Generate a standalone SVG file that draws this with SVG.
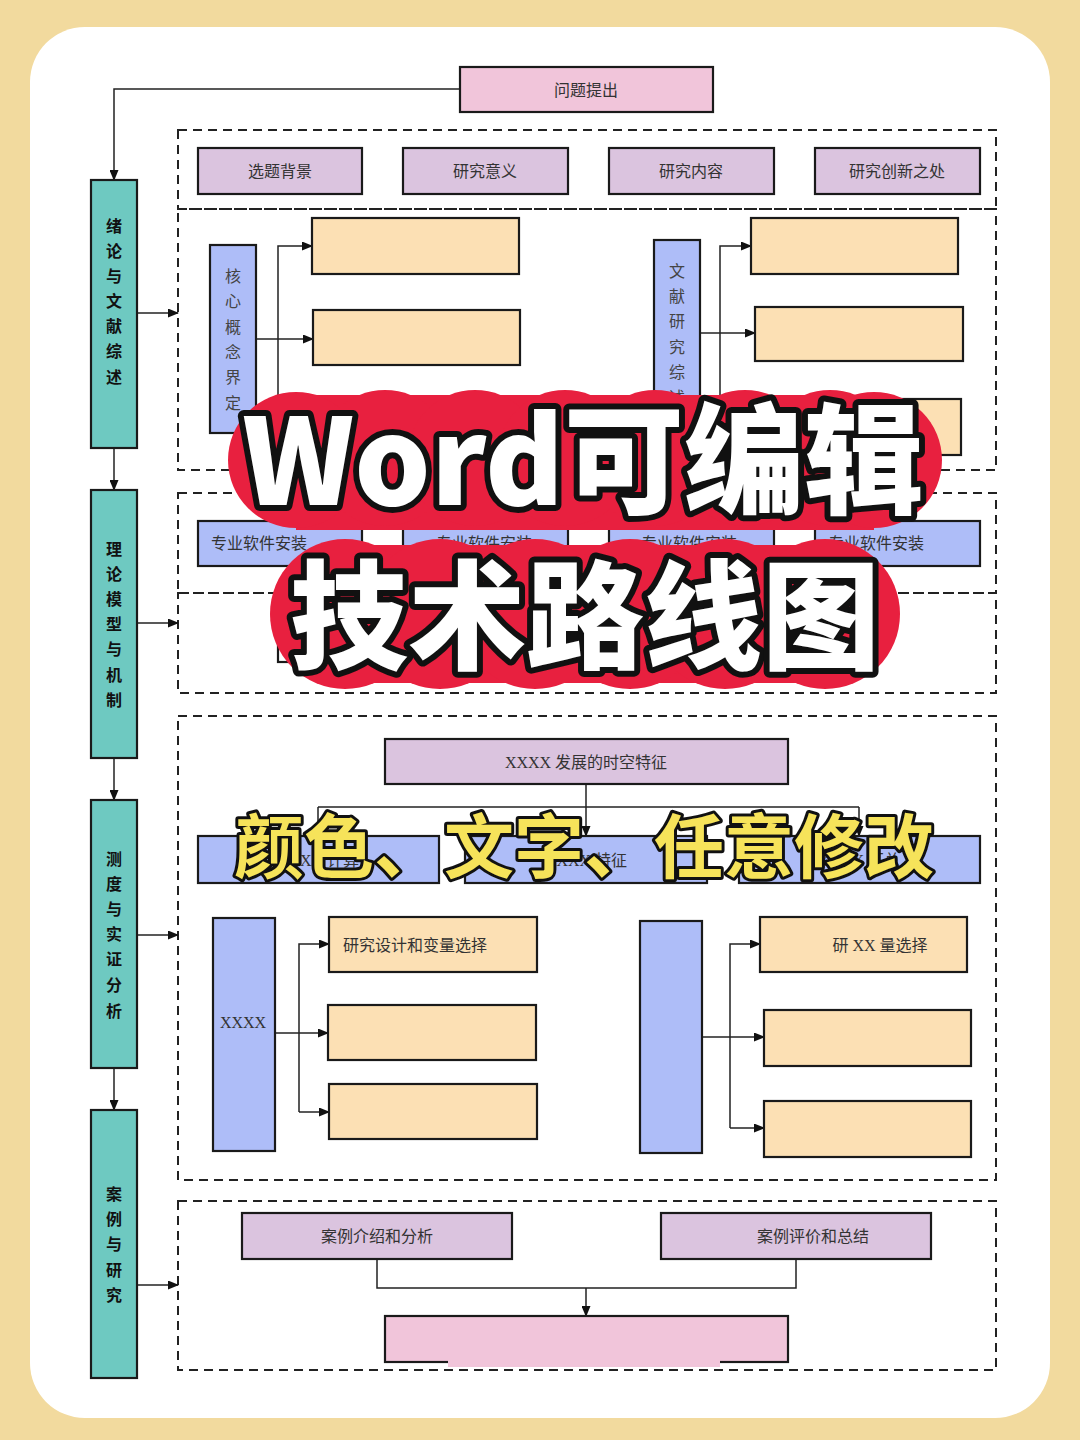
<svg xmlns="http://www.w3.org/2000/svg" width="1080" height="1440" viewBox="0 0 1080 1440">
<defs>
<marker id="arr" markerWidth="11" markerHeight="9" refX="10" refY="4.5" orient="auto" markerUnits="userSpaceOnUse"><path d="M0,0 L11,4.5 L0,9 z" fill="#111"/></marker>
<style>
.box{stroke:#1a1a1a;stroke-width:2.2}
.pink{fill:#F1C5DA}.lav{fill:#DBC4DF}.org{fill:#FCE0B4}.blue{fill:#AEBDF8}.teal{fill:#6EC9C1}
.dash{fill:none;stroke:#222;stroke-width:2;stroke-dasharray:9 6}
.t{font-family:"Liberation Serif","Noto Sans CJK SC",serif;font-size:16px;fill:#333;text-anchor:middle;dominant-baseline:central}
.tl{font-family:"Liberation Serif","Noto Sans CJK SC",serif;font-size:16px;fill:#333;dominant-baseline:central}
.v{font-family:"Noto Sans CJK SC",sans-serif;font-size:16px;fill:#111;font-weight:700;text-anchor:middle;dominant-baseline:central}
.vg{font-family:"Noto Sans CJK SC",sans-serif;font-size:16px;fill:#444;text-anchor:middle;dominant-baseline:central}
.ln{fill:none;stroke:#222;stroke-width:1.5}
.big{font-family:"Noto Sans CJK SC",sans-serif;font-weight:900;fill:#fff;stroke:#111;stroke-width:12;stroke-linejoin:round;paint-order:stroke;text-anchor:middle}
.yel{font-family:"Noto Sans CJK SC",sans-serif;font-weight:700;fill:#F6E35A;stroke:#111;stroke-width:6;stroke-linejoin:round;paint-order:stroke;text-anchor:middle}
</style>
</defs>
<rect x="0" y="0" width="1080" height="1440" fill="#F2DA9E"/>
<rect x="30" y="27" width="1020" height="1391" rx="55" fill="#fff"/>

<g id="dashed-frames">
<rect class="dash" x="178" y="130" width="818" height="79"/>
<rect class="dash" x="178" y="209" width="818" height="261"/>
<rect class="dash" x="178" y="493" width="818" height="100"/>
<rect class="dash" x="178" y="593" width="818" height="100"/>
<rect class="dash" x="178" y="716" width="818" height="464"/>
<rect class="dash" x="178" y="1201" width="818" height="169"/>
</g>

<g id="connectors">
<path class="ln" d="M460,89 H114 V180" marker-end="url(#arr)"/>
<path class="ln" d="M137,313 H178" marker-end="url(#arr)"/>
<path class="ln" d="M114,448 V490" marker-end="url(#arr)"/>
<path class="ln" d="M137,623 H178" marker-end="url(#arr)"/>
<path class="ln" d="M114,758 V800" marker-end="url(#arr)"/>
<path class="ln" d="M137,935 H178" marker-end="url(#arr)"/>
<path class="ln" d="M114,1068 V1110" marker-end="url(#arr)"/>
<path class="ln" d="M137,1285 H178" marker-end="url(#arr)"/>
<path class="ln" d="M256,339 H313" marker-end="url(#arr)"/>
<path class="ln" d="M278,427 V246 H312" marker-end="url(#arr)"/>
<path class="ln" d="M278,427 H312" marker-end="url(#arr)"/>
<path class="ln" d="M700,333 H755" marker-end="url(#arr)"/>
<path class="ln" d="M720,427 V246 H751" marker-end="url(#arr)"/>
<path class="ln" d="M720,427 H753" marker-end="url(#arr)"/>
<path class="ln" d="M586,784 V836" marker-end="url(#arr)"/>
<path class="ln" d="M318,807 H859"/>
<path class="ln" d="M318,807 V836" marker-end="url(#arr)"/>
<path class="ln" d="M859,807 V836" marker-end="url(#arr)"/>
<path class="ln" d="M275,1033 H328" marker-end="url(#arr)"/>
<path class="ln" d="M299,1112 V944 H329" marker-end="url(#arr)"/>
<path class="ln" d="M299,1112 H329" marker-end="url(#arr)"/>
<path class="ln" d="M702,1037 H764" marker-end="url(#arr)"/>
<path class="ln" d="M730,1128 V944 H760" marker-end="url(#arr)"/>
<path class="ln" d="M730,1128 H764" marker-end="url(#arr)"/>
<path class="ln" d="M377,1259 V1288 H796 V1259"/>
<path class="ln" d="M586,1288 V1316" marker-end="url(#arr)"/>
</g>

<g id="n-wenti"><rect class="box pink" x="460" y="67" width="253" height="45"/><text class="t" x="586" y="90">问题提出</text></g>

<g id="n-xuanti"><rect class="box lav" x="198" y="148" width="164" height="46"/><text class="t" x="280" y="171">选题背景</text></g>
<g id="n-yiyi"><rect class="box lav" x="403" y="148" width="165" height="46"/><text class="t" x="485" y="171">研究意义</text></g>
<g id="n-neirong"><rect class="box lav" x="609" y="148" width="165" height="46"/><text class="t" x="691" y="171">研究内容</text></g>
<g id="n-chuangxin"><rect class="box lav" x="815" y="148" width="165" height="46"/><text class="t" x="897" y="171">研究创新之处</text></g>

<g id="n-teal1"><rect class="box teal" x="91" y="180" width="46" height="268"/>
<text class="v" x="114" y="225">绪</text><text class="v" x="114" y="250">论</text><text class="v" x="114" y="275">与</text><text class="v" x="114" y="300">文</text><text class="v" x="114" y="325">献</text><text class="v" x="114" y="350">综</text><text class="v" x="114" y="376">述</text></g>
<g id="n-teal2"><rect class="box teal" x="91" y="490" width="46" height="268"/>
<text class="v" x="114" y="548">理</text><text class="v" x="114" y="573">论</text><text class="v" x="114" y="598">模</text><text class="v" x="114" y="623">型</text><text class="v" x="114" y="648">与</text><text class="v" x="114" y="674">机</text><text class="v" x="114" y="699">制</text></g>
<g id="n-teal3"><rect class="box teal" x="91" y="800" width="46" height="268"/>
<text class="v" x="114" y="858">测</text><text class="v" x="114" y="883">度</text><text class="v" x="114" y="908">与</text><text class="v" x="114" y="933">实</text><text class="v" x="114" y="958">证</text><text class="v" x="114" y="984">分</text><text class="v" x="114" y="1010">析</text></g>
<g id="n-teal4"><rect class="box teal" x="91" y="1110" width="46" height="268"/>
<text class="v" x="114" y="1193">案</text><text class="v" x="114" y="1218">例</text><text class="v" x="114" y="1243">与</text><text class="v" x="114" y="1269">研</text><text class="v" x="114" y="1294">究</text></g>

<g id="n-hexin"><rect class="box blue" x="210" y="245" width="46" height="188"/>
<text class="vg" x="233" y="275">核</text><text class="vg" x="233" y="300">心</text><text class="vg" x="233" y="326">概</text><text class="vg" x="233" y="351">念</text><text class="vg" x="233" y="376">界</text><text class="vg" x="233" y="402">定</text></g>
<g id="n-h1"><rect class="box org" x="312" y="218" width="207" height="56"/></g>
<g id="n-h2"><rect class="box org" x="313" y="310" width="207" height="55"/></g>
<g id="n-h3"><rect class="box org" x="312" y="399" width="207" height="56"/></g>

<g id="n-wenxian"><rect class="box blue" x="654" y="240" width="46" height="190"/>
<text class="vg" x="677" y="270">文</text><text class="vg" x="677" y="295">献</text><text class="vg" x="677" y="320">研</text><text class="vg" x="677" y="346">究</text><text class="vg" x="677" y="371">综</text><text class="vg" x="677" y="396">述</text></g>
<g id="n-w1"><rect class="box org" x="751" y="218" width="207" height="56"/></g>
<g id="n-w2"><rect class="box org" x="755" y="307" width="208" height="54"/></g>
<g id="n-w3"><rect class="box org" x="753" y="399" width="208" height="56"/></g>

<g id="n-rj1"><rect class="box blue" x="198" y="521" width="164" height="45"/><text class="tl" x="211" y="543">专业软件安装</text></g>
<g id="n-rj2"><rect class="box blue" x="403" y="521" width="165" height="45"/><text class="tl" x="436" y="543">专业软件安装</text></g>
<g id="n-rj3"><rect class="box blue" x="609" y="521" width="165" height="45"/><text class="tl" x="641" y="543">专业软件安装</text></g>
<g id="n-rj4"><rect class="box blue" x="815" y="521" width="165" height="45"/><text class="tl" x="828" y="543">专业软件安装</text></g>

<g id="n-hidden"><rect class="box" fill="#fff" x="278" y="612" width="600" height="50"/></g>

<g id="n-shikong"><rect class="box lav" x="385" y="739" width="403" height="45"/><text class="t" x="586" y="762">XXXX 发展的时空特征</text></g>
<g id="n-b1"><rect class="box blue" x="198" y="836" width="241" height="47"/><text class="t" x="318" y="860">XXXX 计算</text></g>
<g id="n-b2"><rect class="box blue" x="465" y="836" width="242" height="47"/><text class="t" x="586" y="860">XXXX 特征</text></g>
<g id="n-b3"><rect class="box blue" x="739" y="836" width="241" height="47"/><text class="t" x="859" y="860">XXXX 汇总</text></g>

<g id="n-xxxx"><rect class="box blue" x="213" y="918" width="62" height="233"/><text class="t" x="243" y="1022">XXXX</text></g>
<g id="n-l1"><rect class="box org" x="329" y="917" width="208" height="55"/><text class="tl" x="343" y="945">研究设计和变量选择</text></g>
<g id="n-l2"><rect class="box org" x="328" y="1005" width="208" height="55"/></g>
<g id="n-l3"><rect class="box org" x="329" y="1084" width="208" height="55"/></g>
<g id="n-rblue"><rect class="box blue" x="640" y="921" width="62" height="232"/></g>
<g id="n-r1"><rect class="box org" x="760" y="917" width="207" height="55"/><text class="t" x="880" y="945">研 XX 量选择</text></g>
<g id="n-r2"><rect class="box org" x="764" y="1010" width="207" height="56"/></g>
<g id="n-r3"><rect class="box org" x="764" y="1101" width="207" height="56"/></g>

<g id="n-anli1"><rect class="box lav" x="242" y="1213" width="270" height="46"/><text class="t" x="377" y="1236">案例介绍和分析</text></g>
<g id="n-anli2"><rect class="box lav" x="661" y="1213" width="270" height="46"/><text class="t" x="813" y="1236">案例评价和总结</text></g>
<g id="n-final"><rect class="box pink" x="385" y="1316" width="403" height="46"/><rect x="448" y="1358" width="272" height="9" fill="#F1C5DA"/></g>

<g id="overlay">
<g fill="#E8203F">
<rect x="296" y="395" width="578" height="135"/>
<circle cx="296" cy="460" r="68"/><circle cx="385" cy="458" r="68"/><circle cx="475" cy="458" r="68"/><circle cx="565" cy="458" r="68"/><circle cx="655" cy="458" r="68"/><circle cx="745" cy="458" r="68"/><circle cx="830" cy="458" r="68"/><circle cx="874" cy="460" r="68"/>
<rect x="345" y="545" width="480" height="138"/>
<circle cx="345" cy="614" r="75"/><circle cx="440" cy="614" r="75"/><circle cx="535" cy="614" r="75"/><circle cx="630" cy="614" r="75"/><circle cx="725" cy="614" r="75"/><circle cx="825" cy="614" r="75"/>
</g>
<text class="big" x="583" y="505" font-size="120">Word可编辑</text>
<text class="big" x="585" y="660" font-size="118">技术路线图</text>
<text class="yel" x="584" y="873" font-size="70">颜色、文字、任意修改</text>
</g>
</svg>
